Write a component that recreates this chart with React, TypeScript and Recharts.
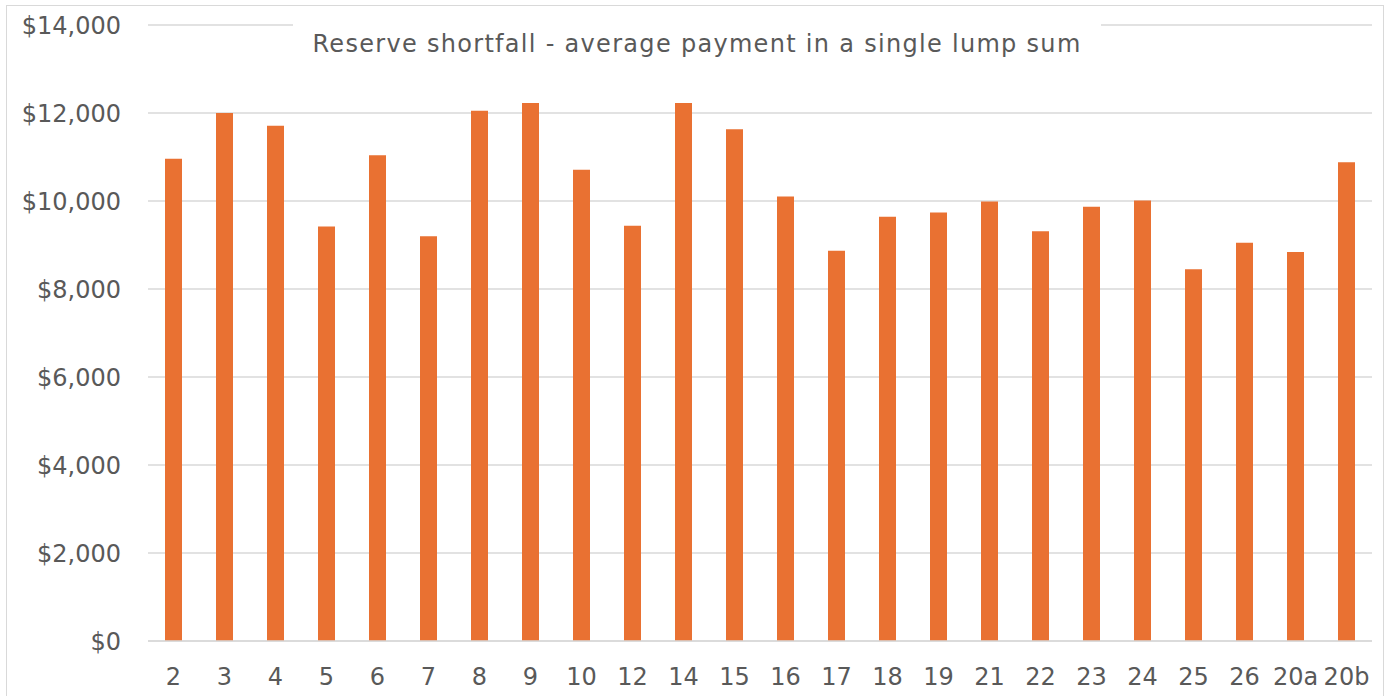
import { BarChart, Bar, XAxis, YAxis, CartesianGrid } from 'recharts';

const categories = ['2', '3', '4', '5', '6', '7', '8', '9', '10', '12', '14', '15', '16', '17', '18', '19', '21', '22', '23', '24', '25', '26', '20a', '20b'];
const payments = [10960, 12000, 11710, 9420, 11040, 9200, 12050, 12230, 10710, 9440, 12230, 11630, 10100, 8870, 9640, 9740, 9990, 9310, 9870, 10010, 8450, 9050, 8840, 10880];
const yTicks = [0, 2000, 4000, 6000, 8000, 10000, 12000, 14000];

const data = categories.map((name, i) => ({ name, value: payments[i] }));

const fmt = (v: number) => '$' + v.toLocaleString('en-US');

export default function App() {
  return (
    <div style={{ position: 'absolute', left: 0, top: 0, width: 1390, height: 696, background: '#fff', overflow: 'hidden' }}>
      {/* chart border */}
      <div style={{ position: 'absolute', left: 6, top: 5, width: 1376, height: 710, border: '1.5px solid #d9d9d9' }} />
      <BarChart width={1390} height={696} data={data} margin={{ top: 25, right: 18, bottom: 0, left: 0 }}>
        <CartesianGrid vertical={false} stroke="#d9d9d9" strokeWidth={1.3} />
        <XAxis
          dataKey="name"
          height={55}
          axisLine={{ stroke: '#d9d9d9', strokeWidth: 1.3 }}
          tickLine={false}
          tickMargin={21}
          interval={0}
          tick={{ fill: '#595959', fontSize: 24, fontFamily: 'DejaVu Sans' }}
        />
        <YAxis
          width={148}
          domain={[0, 14000]}
          ticks={yTicks}
          tickFormatter={fmt}
          axisLine={false}
          tickLine={false}
          tickMargin={21}
          tick={{ fill: '#595959', fontSize: 24, fontFamily: 'DejaVu Sans' }}
        />
        <Bar dataKey="value" fill="#E97132" barSize={17} isAnimationActive={false} />
      </BarChart>
      {/* title sits over the top gridline */}
      <div
        style={{
          position: 'absolute',
          left: 293,
          top: 17,
          width: 808,
          height: 54,
          background: '#fff',
          color: '#595959',
          fontFamily: '"DejaVu Sans"',
          fontSize: 24,
          letterSpacing: 1.3,
          lineHeight: '54px',
          textAlign: 'center',
          whiteSpace: 'nowrap',
        }}
      >
        Reserve shortfall - average payment in a single lump sum
      </div>
    </div>
  );
}
